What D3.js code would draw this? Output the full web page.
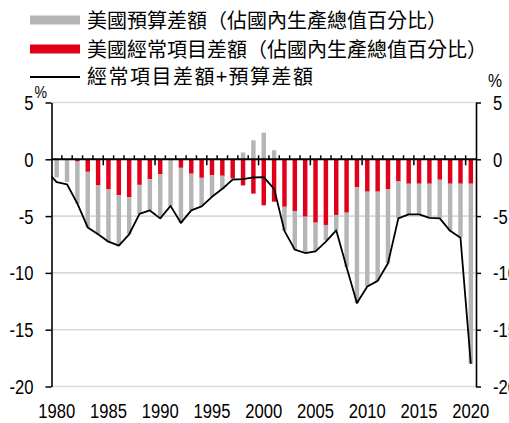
<!DOCTYPE html>
<html>
<head>
<meta charset="utf-8">
<script src="https://cdn.jsdelivr.net/npm/d3@7"></script>
<style>
  body { margin: 0; background: #fff; }
  svg { display: block; }
  .num { font-family: "Liberation Sans", Arial, sans-serif; font-size: 20px; fill: #000; }
  .legend { font-family: "Noto Sans CJK TC", "Noto Sans CJK SC", sans-serif; font-size: 20px; fill: #000; }
</style>
</head>
<body>
<div id="chart"></div>
<script>
// ---- data (% of GDP) ----
const years = d3.range(1980, 2021);
const budgetBalance = [
  -1.6, -2.0, -3.7, -4.9, -4.3, -4.65, -4.45, -3.25, -2.55, -2.75,
  -3.9, -4.1, -4.85, -3.2, -2.5, -1.9, -1.2, -0.12, 0.6, 1.67,
  2.35, 0.8, -2.1, -3.4, -3.2, -2.5, -1.35, -1.35, -4.8, -10.2,
  -8.35, -7.85, -6.5, -3.25, -2.7, -2.7, -3.0, -3.4, -4.15, -4.75,
  -15.85
];
const currentAccount = [
  0, 0, -0.2, -1.1, -2.3, -2.65, -3.15, -3.35, -2.25, -1.75,
  -1.3, 0, -0.75, -1.27, -1.63, -1.41, -1.45, -1.66, -2.3, -3.02,
  -4.05, -3.73, -4.18, -4.55, -5.05, -5.58, -5.78, -4.9, -4.7, -2.46,
  -2.85, -2.85, -2.65, -1.95, -2.15, -2.15, -2.15, -1.8, -2.15, -2.15,
  -2.15
];
// combined line starts one year earlier (clipped at the axis)
const lineYears = d3.range(1979, 2021);
const combined = [
  -1.0,
  -2.0, -2.2, -3.9, -6.0, -6.6, -7.25, -7.6, -6.6, -4.8, -4.5,
  -5.2, -4.1, -5.6, -4.5, -4.15, -3.3, -2.6, -1.78, -1.75, -1.6,
  -1.57, -2.6, -6.3, -7.95, -8.25, -8.1, -7.25, -6.25, -9.5, -12.65,
  -11.2, -10.7, -9.15, -5.2, -4.85, -4.85, -5.15, -5.2, -6.3, -6.9,
  -18.0
];
const yTicks = [5, 0, -5, -10, -15, -20];
const xLabels = [1980, 1985, 1990, 1995, 2000, 2005, 2010, 2015, 2020];
const legendLabels = [
  "美國預算差額（佔國內生產總值百分比）",
  "美國經常項目差額（佔國內生產總值百分比）",
  "經常項目差額+預算差額"
];

const width = 509, height = 423;
const plot = { left: 51.5, right: 476, top: 102.5, bottom: 386.5 };
const grey = "#b5b5b5", red = "#e1001a";

const svg = d3.select("#chart").append("svg")
  .attr("width", width)
  .attr("height", height);

const x = d3.scaleLinear()
  .domain([1979.5, 2020.5])
  .range([plot.left, plot.right]);
const y = d3.scaleLinear()
  .domain([-20, 5])
  .range([plot.bottom, plot.top]);
const step = x(1981) - x(1980);
const barW = step * 0.43;

// squeeze Arial-like digits to an Arial Narrow look
function narrow(sel) {
  sel.each(function() {
    const len = this.getComputedTextLength();
    d3.select(this)
      .attr("textLength", len * 0.83)
      .attr("lengthAdjust", "spacingAndGlyphs");
  });
}

// gridlines
svg.append("g")
  .selectAll("line")
  .data(yTicks.filter(t => t !== 0))
  .enter().append("line")
  .attr("x1", plot.left).attr("x2", plot.right)
  .attr("y1", d => y(d)).attr("y2", d => y(d))
  .attr("stroke", "#d9d9d9")
  .attr("stroke-width", 1.6);

// stacked bars: current account nearest zero, budget beyond it
const rows = years.map((yr, i) => ({ year: yr, ca: currentAccount[i], budget: budgetBalance[i] }));
const stack = d3.stack().keys(["ca", "budget"]).offset(d3.stackOffsetDiverging);
const series = stack(rows);
const colors = { ca: red, budget: grey };

svg.append("g")
  .selectAll("g")
  .data(series)
  .enter().append("g")
  .attr("fill", d => colors[d.key])
  .selectAll("rect")
  .data(d => d)
  .enter().append("rect")
  .attr("x", d => x(d.data.year) - barW / 2)
  .attr("width", barW)
  .attr("y", d => y(Math.max(d[0], d[1])))
  .attr("height", d => Math.abs(y(d[0]) - y(d[1])));

// combined line
svg.append("clipPath").attr("id", "plotClip")
  .append("rect")
  .attr("x", plot.left).attr("y", 0)
  .attr("width", plot.right - plot.left).attr("height", height);

const line = d3.line()
  .x((d, i) => x(lineYears[i]))
  .y(d => y(d));

svg.append("path")
  .datum(combined)
  .attr("clip-path", "url(#plotClip)")
  .attr("d", line)
  .attr("fill", "none")
  .attr("stroke", "#000")
  .attr("stroke-width", 1.8)
  .attr("stroke-linejoin", "round");

// zero line + category ticks
const y0 = y(0);
svg.append("line")
  .attr("x1", plot.left).attr("x2", plot.right)
  .attr("y1", y0).attr("y2", y0)
  .attr("stroke", "#000").attr("stroke-width", 2);

const boundaries = years.slice(1).map(yr => yr - 0.5);
svg.append("g")
  .selectAll("line")
  .data(boundaries)
  .enter().append("line")
  .attr("x1", d => x(d)).attr("x2", d => x(d))
  .attr("y1", y0 - 4)
  .attr("y2", d => ((d + 0.5) % 5 === 0) ? y0 + 6 : y0)
  .attr("stroke", "#000")
  .attr("stroke-width", 1.5);

// year labels
svg.append("g")
  .selectAll("text")
  .data(xLabels)
  .enter().append("text")
  .attr("class", "num")
  .attr("x", d => x(d))
  .attr("y", 418)
  .attr("text-anchor", "middle")
  .text(d => d)
  .call(narrow);

// y axes
const leftAxis = svg.append("g")
  .attr("transform", `translate(${plot.left},0)`)
  .call(d3.axisLeft(y).tickValues(yTicks).tickFormat(d => String(d))
    .tickSize(6).tickSizeOuter(0).tickPadding(12));
const rightAxis = svg.append("g")
  .attr("transform", `translate(${plot.right},0)`)
  .call(d3.axisRight(y).tickValues(yTicks).tickFormat(d => String(d))
    .tickSize(5).tickSizeOuter(0).tickPadding(12));

[leftAxis, rightAxis].forEach(g => {
  g.select(".domain").attr("stroke", "#000").attr("stroke-width", 1.6);
  g.selectAll(".tick line").attr("stroke", "#000").attr("stroke-width", 1.5);
  g.selectAll(".tick text")
    .attr("class", "num")
    .attr("fill", "#000")
    .attr("dy", "0.35em")
    .call(narrow);
});

svg.append("text").attr("class", "num")
  .attr("x", 34.5).attr("y", 98)
  .style("font-size", "17px")
  .text("%")
  .call(narrow);
svg.append("text").attr("class", "num")
  .attr("x", 488).attr("y", 87)
  .style("font-size", "19px")
  .text("%")
  .call(narrow);

// legend
const legend = svg.append("g");
const rowY = [20, 49, 76];
legend.append("rect").attr("x", 30).attr("y", rowY[0] - 4.5).attr("width", 50).attr("height", 9).attr("fill", grey);
legend.append("rect").attr("x", 30).attr("y", rowY[1] - 4.5).attr("width", 50).attr("height", 9).attr("fill", red);
legend.append("line").attr("x1", 30).attr("x2", 80).attr("y1", rowY[2] + 1).attr("y2", rowY[2] + 1)
  .attr("stroke", "#000").attr("stroke-width", 1.8);

legend.selectAll("text")
  .data(legendLabels)
  .enter().append("text")
  .attr("class", "legend")
  .attr("x", 87)
  .attr("y", (d, i) => rowY[i] + 7.5)
  .style("letter-spacing", (d, i) => i === 2 ? "1.5px" : "0px")
  .text(d => d);
</script>
</body>
</html>
